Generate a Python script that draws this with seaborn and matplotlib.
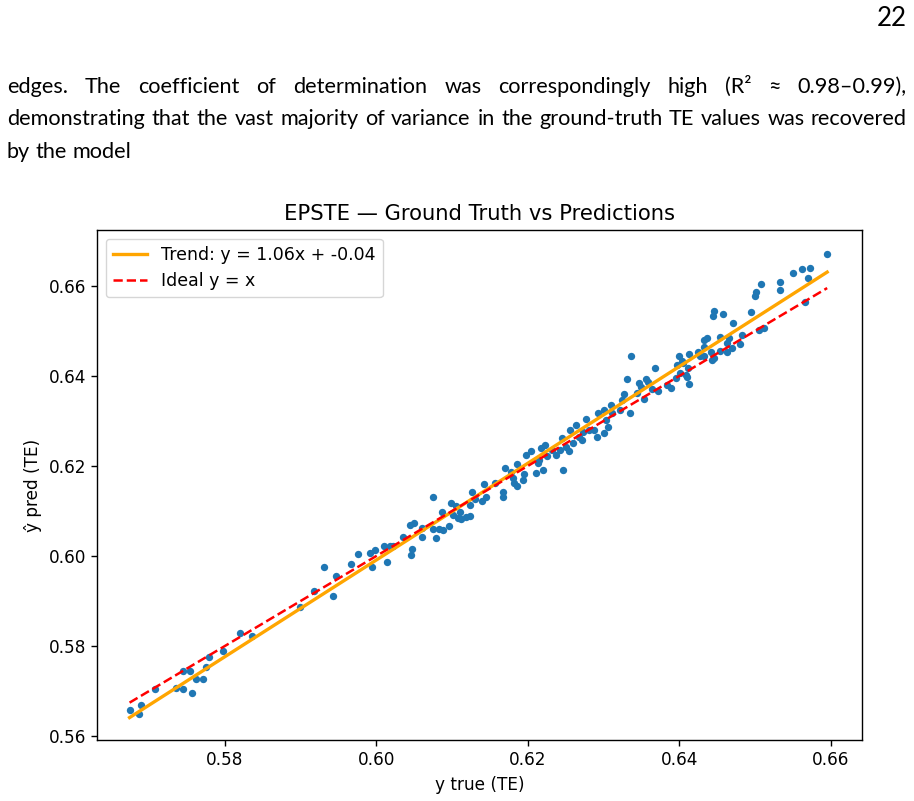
import numpy as np
import matplotlib
matplotlib.use("Agg")
import matplotlib.pyplot as plt
import seaborn as sns

# values (x = ground truth, y = prediction)
y_true = [0.5674, 0.5686, 0.5689, 0.5708, 0.5735, 0.5744, 0.5744, 0.5754, 0.5757, 0.5762,
          0.5771, 0.5775, 0.5779, 0.5797, 0.5820, 0.5835, 0.5899, 0.5917, 0.5931, 0.5942,
          0.5947, 0.5966, 0.5976, 0.5992, 0.5994, 0.5998, 0.6010, 0.6014, 0.6018, 0.6022,
          0.6035, 0.6044, 0.6046, 0.6047, 0.6049, 0.6060, 0.6060, 0.6075, 0.6075, 0.6078,
          0.6082, 0.6086, 0.6088, 0.6096, 0.6098, 0.6101, 0.6105, 0.6108, 0.6110, 0.6112,
          0.6118, 0.6123, 0.6124, 0.6126, 0.6130, 0.6139, 0.6142, 0.6145, 0.6157, 0.6167,
          0.6167, 0.6170, 0.6178, 0.6180, 0.6182, 0.6185, 0.6186, 0.6193, 0.6195, 0.6198,
          0.6204, 0.6211, 0.6213, 0.6215, 0.6217, 0.6220, 0.6223, 0.6225, 0.6232, 0.6237,
          0.6242, 0.6245, 0.6246, 0.6250, 0.6254, 0.6256, 0.6260, 0.6264, 0.6267, 0.6271,
          0.6273, 0.6276, 0.6280, 0.6287, 0.6291, 0.6293, 0.6300, 0.6301, 0.6303, 0.6305,
          0.6309, 0.6311, 0.6321, 0.6324, 0.6327, 0.6331, 0.6335, 0.6336, 0.6344, 0.6346,
          0.6349, 0.6353, 0.6356, 0.6359, 0.6364, 0.6368, 0.6372, 0.6383, 0.6389, 0.6396,
          0.6397, 0.6400, 0.6401, 0.6403, 0.6405, 0.6408, 0.6410, 0.6411, 0.6412, 0.6413,
          0.6425, 0.6427, 0.6432, 0.6432, 0.6433, 0.6436, 0.6441, 0.6443, 0.6444, 0.6445,
          0.6446, 0.6454, 0.6454, 0.6458, 0.6463, 0.6463, 0.6465, 0.6469, 0.6471, 0.6480,
          0.6483, 0.6495, 0.6500, 0.6501, 0.6505, 0.6507, 0.6511, 0.6533, 0.6533, 0.6550,
          0.6562, 0.6566, 0.6570, 0.6573, 0.6595]
y_pred = [0.5658, 0.5648, 0.5668, 0.5705, 0.5707, 0.5704, 0.5744, 0.5745, 0.5696, 0.5727,
          0.5727, 0.5754, 0.5775, 0.5789, 0.5828, 0.5823, 0.5887, 0.5923, 0.5976, 0.5910,
          0.5956, 0.5982, 0.6004, 0.6006, 0.5976, 0.6012, 0.6021, 0.5987, 0.6021, 0.6022,
          0.6043, 0.6069, 0.6002, 0.6015, 0.6073, 0.6062, 0.6041, 0.6130, 0.6059, 0.6039,
          0.6059, 0.6098, 0.6058, 0.6067, 0.6118, 0.6091, 0.6111, 0.6084, 0.6098, 0.6082,
          0.6086, 0.6113, 0.6089, 0.6143, 0.6126, 0.6123, 0.6159, 0.6130, 0.6162, 0.6143,
          0.6130, 0.6196, 0.6187, 0.6173, 0.6162, 0.6204, 0.6156, 0.6169, 0.6182, 0.6224,
          0.6232, 0.6184, 0.6206, 0.6213, 0.6239, 0.6191, 0.6247, 0.6221, 0.6236, 0.6224,
          0.6236, 0.6262, 0.6191, 0.6243, 0.6234, 0.6280, 0.6250, 0.6291, 0.6265, 0.6258,
          0.6276, 0.6304, 0.6280, 0.6280, 0.6265, 0.6318, 0.6324, 0.6273, 0.6302, 0.6287,
          0.6336, 0.6317, 0.6324, 0.6347, 0.6360, 0.6393, 0.6317, 0.6443, 0.6362, 0.6384,
          0.6376, 0.6348, 0.6393, 0.6387, 0.6370, 0.6418, 0.6367, 0.6380, 0.6373, 0.6395,
          0.6424, 0.6443, 0.6406, 0.6432, 0.6428, 0.6402, 0.6398, 0.6417, 0.6449, 0.6382,
          0.6452, 0.6444, 0.6443, 0.6465, 0.6480, 0.6484, 0.6454, 0.6436, 0.6533, 0.6439,
          0.6544, 0.6487, 0.6456, 0.6538, 0.6473, 0.6452, 0.6484, 0.6462, 0.6518, 0.6471,
          0.6491, 0.6542, 0.6578, 0.6587, 0.6502, 0.6604, 0.6506, 0.6608, 0.6591, 0.6628,
          0.6637, 0.6563, 0.6617, 0.6639, 0.6670]

title_text = "EPSTE — Ground Truth vs Predictions"
trend_label = "Trend: y = 1.06x + -0.04"
ideal_label = "Ideal y = x"
x_label = "y true (TE)"
y_label = "ŷ pred (TE)"
x_ticks = [0.58, 0.60, 0.62, 0.64, 0.66]
y_ticks = [0.56, 0.58, 0.60, 0.62, 0.64, 0.66]

# page text around the figure
page_number = "22"
line1_words = ["edges.", "The", "coefficient", "of", "determination", "was",
               "correspondingly", "high", "(R²", "≈", "0.98–0.99),"]
line2_words = ("demonstrating that the vast majority of variance in the "
               "ground-truth TE values was recovered").split()
line3_text = "by the model"

W, H = 914, 801
PAGE_FONT = ["Lato", "DejaVu Sans"]


#------------------------------------------------------------
# PlaceWords : lays out words between x0 and x1 (pixels),
#              stretching the gaps like justified text
#------------------------------------------------------------
def PlaceWords(fig, renderer, words, baseline, x0, x1, size, justify=True):
    texts = [fig.text(0, 1 - baseline / H, w, fontsize=size, family=PAGE_FONT,
                      va="baseline", ha="left", color="black") for w in words]
    widths = [t.get_window_extent(renderer).width for t in texts]
    if justify and len(words) > 1:
        gap = (x1 - x0 - sum(widths)) / (len(words) - 1)
    else:
        gap = fig.text(0, 0, " ", fontsize=size, family=PAGE_FONT).get_window_extent(renderer).width
    x = x0
    for t, w in zip(texts, widths):
        t.set_x(x / W)
        x += w + gap


def DrawPage(fig):
    renderer = fig.canvas.get_renderer()
    # pick a size so that the full second line just fits the text block
    probe = fig.text(0, 0, " ".join(line2_words), fontsize=10, family=PAGE_FONT)
    size = 10 * 885 / probe.get_window_extent(renderer).width
    probe.remove()

    fig.text(907 / W, 1 - 26 / H, page_number, fontsize=size * 1.2, family=PAGE_FONT,
             ha="right", va="baseline")
    PlaceWords(fig, renderer, line1_words, 93, 7, 907, size)
    PlaceWords(fig, renderer, line2_words, 125, 7, 907, size)
    PlaceWords(fig, renderer, line3_text.split(), 158, 7, 907, size, justify=False)


def DrawChart(fig):
    ax = fig.add_axes([97 / W, 61 / H, 765 / W, 510 / H])
    x = np.array(y_true)
    y = np.array(y_pred)

    sns.scatterplot(x=x, y=y, ax=ax, s=28, color="#1f77b4", linewidth=0, legend=False)

    slope, intercept = np.polyfit(x, y, 1)
    xs = np.array([x.min(), x.max()])
    sns.lineplot(x=xs, y=slope * xs + intercept, ax=ax, color="orange",
                 linewidth=2.4, label=trend_label)
    sns.lineplot(x=xs, y=xs, ax=ax, color="red", linestyle="--",
                 linewidth=1.8, label=ideal_label)

    ax.set_xlim(0.5631, 0.6641)
    ax.set_ylim(0.5591, 0.6724)
    ax.set_xticks(x_ticks)
    ax.set_yticks(y_ticks)
    ax.set_xticklabels([f"{v:.2f}" for v in x_ticks])
    ax.set_yticklabels([f"{v:.2f}" for v in y_ticks])
    ax.tick_params(labelsize=12.2, length=4.3, width=1)
    for s in ax.spines.values():
        s.set_linewidth(1)
    ax.set_title(title_text, fontsize=15.2, pad=7)
    ax.set_xlabel(x_label, fontsize=12.2, labelpad=5)
    ax.set_ylabel(y_label, fontsize=12.2, labelpad=5)
    ax.legend(loc="upper left", fontsize=12.5)


def main():
    fig = plt.figure(figsize=(W / 100, H / 100), dpi=100)
    fig.patch.set_facecolor("white")
    DrawPage(fig)
    DrawChart(fig)
    fig.savefig("out.png", dpi=100)


if __name__ == "__main__":
    main()
